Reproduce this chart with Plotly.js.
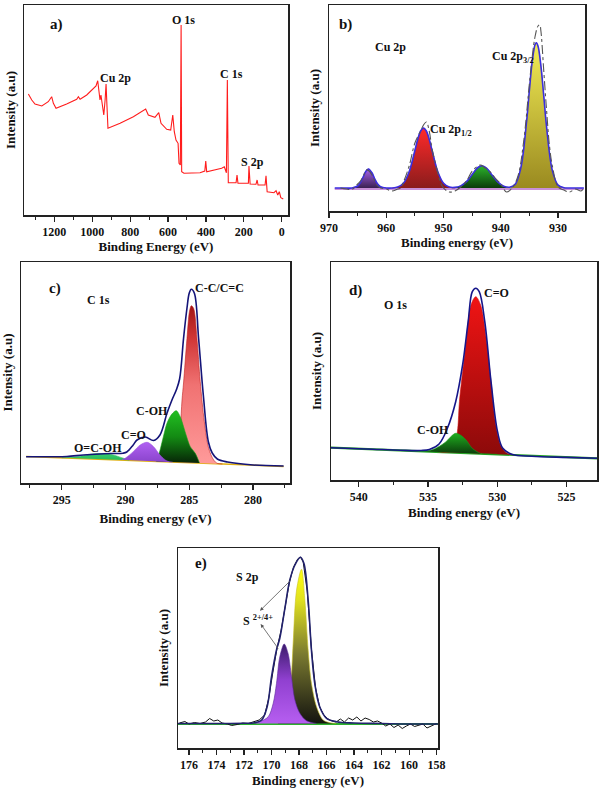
<!DOCTYPE html>
<html><head><meta charset="utf-8">
<script src="https://cdn.plot.ly/plotly-3.0.1.min.js"></script>
<style>html,body{margin:0;padding:0;background:#fff}#chart{width:600px;height:789px}</style>
</head><body><div id="chart"></div>
<script>
// ---------- Panel a: survey ----------
const surveyEnergy = [1337,1319,1302,1266,1232,1214,1205,1191,1135,1082,1073,1064,1029,994,980,971,964,959,954,947,939,932,927,922,917,853,783,718,704,669,649,637,607,586,575,567,558,547,542,535,531,528,516,431,406,401,396,317,303,292,287,282,241,236,231,176,173,167,136,130,125,88,83,77,41,30,21,13,5,-8];
const surveyIntensity = [121,115,111,109,113.3,118.3,111.7,106.7,111,115.7,118.3,115.7,120,126.7,129,134.3,125,115,120,108.3,100,115,131,108.3,86.7,91.7,98.3,106,100,97.7,102.3,91.7,85.7,85,100,83.3,75,71.7,51.7,50,190,43.3,41.7,42.3,44,54,43.3,46.7,48.3,42.3,135,32.3,32.3,40,31.7,31.7,49,31,30.7,35,30,30,39.3,23.3,22.3,24.3,20,23.3,17.3,16];

// ---------- Panel b: Cu 2p ----------
const cuSatHighE = [966,965,964.5,964,963.5,963.1,962.5,962,961.5,961,960];
const cuSatHighI = [23,25,28.7,34.5,40.2,42,38.2,32,26.9,24.3,23];
const cu2p12E = [959,958,957,956,955,954.5,954,953.5,953,952.5,952,951,950,949,948];
const cu2p12I = [23,23.9,27.7,39.3,60.5,71.7,80,83,80,71.7,60.5,39.3,27.7,23.9,23];
const cuSatLowE = [948.5,948,947,946,945,944,943.3,942.5,941.5,940.5,939.5,938.5,938];
const cuSatLowI = [23,23.5,25.1,29.3,36.6,43.5,45.3,43,35.7,28.8,24.8,23.4,23];
const cu2p32E = [939,938.5,937.5,936.5,935.5,935,934.5,934,933.8,933.5,933,932.5,932,931,930,929,928.5];
const cu2p32I = [23,23.4,26.6,43.2,89.5,121.5,150.3,166.7,168.3,164.8,145.2,115,83.5,40.4,25.9,23.3,23];
const cuEnvE = [969,967,966,965,964.5,964,963.5,963.1,962.5,962,961.5,961,960,959,958,957,956,955,954.5,954,953.5,953,952.5,952,951,950,949,948,947,946,945,944,943.3,942.5,941.5,940.5,939.5,938.5,937.5,936.5,935.5,935,934.5,934,933.8,933.5,933,932.5,932,931,930,929,928,926,925.5];
const cuEnvI = [23,23,23,25,28.7,34.5,40.2,42,38.2,32,26.9,24.3,23,23,23.9,27.7,39.3,60.5,71.7,80,83,80,71.7,60.5,39.3,27.7,23.9,23.6,25.1,29.3,36.6,43.5,45.3,43,35.7,28.8,24.8,23.8,26.6,43.2,89.5,121.5,150.3,166.7,168.3,164.8,145.2,115,83.5,40.4,25.9,23.3,23,23,23];
const cuRawE = [968,967,966,965.5,965,964.5,964,963.5,963,962.5,962,961.5,961,960,959,958,957.5,957,956,955,954,953.5,953,952.5,952,951,950.5,950,949,948,947,946,945,944,943.5,943,942,941,940,939.5,939,938,937,936,935,934.5,934,933.5,933.2,933,932.5,932,931.5,931,930,929,928,927,926,925.5];
const cuRawI = [23,22,21.5,24,27,30,35,41,40,36,30,25,23,22,20,22,23,29,45,68,80,86,89,80,62,38,28,23,19,20,24,30,40,45,46,44,40,33,27,22,19,23,35,70,128,155,175,185,186,180,140,100,65,45,24,21,19,22,20,23];
const cuBaseE = [969,925.5];
const cuBaseI = [22,22];

// ---------- Panel c: C 1s ----------
const cBgE = [297.8,277.6];
const cBgI = [26.6,16.6];
const cOCOHE = [295,294,293.3,292.7,292.1,291.5,290.9,290.3,289.7];
const cOCOHI = [25.2,25.9,27.3,28.8,29.5,29.2,27.8,25.3,22.8];
const cCOE = [290.3,290.0,289.4,288.85,288.3,287.8,287.3,286.75,286.3];
const cCOI = [23.3,25,31.3,38,40.7,36.3,28,22,20.8];
const cCOHE = [287.6,287.4,287.0,286.75,286.36,286.02,285.7,285.45,285.2,284.92,284.53,284.2];
const cCOHI = [21.5,28,48,59.7,69,72.3,66,56.3,46,36.3,29.7,20];
const cCCE = [286.2,285.9,285.7,285.57,285.45,285.18,284.98,284.84,284.66,284.4,284.14,283.82,283.48,283.09,282.82,282.4];
const cCCI = [20.9,30,55,83,100,144.7,172,177.3,174.7,144.7,101.3,61.3,34.7,23,19.7,19];
const cEnvE = [297.8,296,294.6,293.3,292.0,291.0,290.2,289.9,289.4,289.1,288.45,287.8,287.3,286.75,286.36,286.02,285.76,285.45,285.18,285.0,284.84,284.6,284.27,283.9,283.5,283.2,282.8,282.0,280,277.6];
const cEnvI = [26.3,26.3,26.5,28,29,29.5,29.8,31,38,43,46,42.5,48,69.7,83,93,104,144.7,175,190,193.7,189.7,144.7,88,41,30,24,21,18,17];

// ---------- Panel d: O 1s ----------
const dBgE = [542,522.8];
const dBgI = [32.3,21.7];
const dCOE = [534.3,533.5,533.2,533.0,532.85,532.73,532.5,532.25,531.9,531.55,531.2,530.8,530.45,530.1,529.7,529.25,528.8];
const dCOI = [28.3,28,30,38.3,51.7,78.3,108.3,138.3,175,183.3,175,141.7,98.3,55,33.3,26.5,25];
const dCOHE = [535.6,535.1,534.65,534.2,533.7,533.3,533.0,532.6,532.25,531.8,531.2,530.6,530];
const dCOHI = [28.7,29,30.5,33.5,38.3,44,46.7,44.5,40,31.7,26.5,26,25.7];
const dEnvE = [542,539,537,535.5,534.9,534.2,533.6,533.0,532.5,532.1,531.8,531.55,531.3,530.9,530.45,529.98,529.6,528.9,527.5,525,522.8];
const dEnvI = [32.3,30.8,29.8,29.5,30.5,36,51.7,78.3,115,158.3,188.3,191.7,188.3,158.3,98.3,48.3,31.7,25.5,23.8,22.6,21.7];

// ---------- Panel e: S 2p ----------
const eBgE = [176.8,157.9];
const eBgI = [24,24];
const eHighE = [171.2,170.85,170.24,169.88,169.64,169.4,169.08,168.8,168.55,168.3,167.94,167.46,166.73];
const eHighI = [24.5,26.3,31.3,44.7,64.7,91.3,104,94.7,71.3,48,34.7,27.3,24.5];
const eLowE = [169.6,169.2,168.85,168.6,168.43,168.18,167.82,167.58,167.34,167.1,166.73,166.25,165.77,165.3];
const eLowI = [24.5,30,45,64.7,104.7,158,178.7,148,98,64.7,41.3,28,25.3,24.5];
const eEnvE = [176.8,175,173,172,171.33,170.72,170.32,170.0,169.64,169.4,169.03,168.67,168.3,167.9,167.65,167.34,167.1,166.86,166.5,166.0,165.28,164,162,160,157.9];
const eEnvI = [24.5,24.5,24.5,24.7,25,28,41.3,71.3,98,109.7,139.7,168,183,190.7,184.7,148,98,64.7,41.3,29.7,26.3,25,24.5,24,24];
const eRawE = [176.7,176.3,176.0,175.6,175.2,174.8,174.5,174.2,173.9,173.6,173.2,172.9,172.5,172.1,171.7,171.3,170.9,170.5,170.2,169.9,169.6,169.3,169.0,168.7,168.4,168.1,167.9,167.7,167.4,167.1,166.8,166.5,166.2,165.9,165.6,165.3,165.0,164.7,164.4,164.1,163.8,163.5,163.2,162.9,162.6,162.3,162.0,161.7,161.4,161.1,160.8,160.5,160.2,159.9,159.6,159.3,159.0,158.7,158.4,158.0];
const eRawI = [25,26.5,24,25.5,24.5,26,29.5,27,28,25,24,22.5,23.5,25,24.5,26,28,33,50,76,100,118,142,166,181,189,191,186,156,99,60,41,33,29,27,26,29,26,30,28,31,27,30,28.5,26,27,25,22,24,20.5,23,19.5,22,24,21.5,23,24,20,22,24.5];

// ---------- drawing ----------
const W = 600, H = 789;
const FF = "'Liberation Serif', 'Times New Roman', serif";
const ax = i => (i === 1 ? '' : String(i));

function lineTrace(xs, ys, i, color, width, dash, shape) {
  return {type:'scatter', mode:'lines', x:xs, y:ys, xaxis:'x'+ax(i), yaxis:'y'+ax(i),
    line:{color:color, width:width, dash:dash||'solid', shape:shape||'linear'}, hoverinfo:'skip'};
}
function fillTrace(xs, ys, i, scale, edge) {
  return {type:'scatter', mode:'lines', x:xs, y:ys, xaxis:'x'+ax(i), yaxis:'y'+ax(i),
    fill:'toself', fillcolor:scale[scale.length-1][1],
    fillgradient:{type:'vertical', colorscale:scale},
    line:{color:edge, width:0.6, shape:'spline', smoothing:0.9}, hoverinfo:'skip'};
}

const traces = [
  lineTrace(surveyEnergy, surveyIntensity, 1, '#ff1c1c', 1.1),

  lineTrace(cuBaseE, cuBaseI, 2, '#c890d8', 2),
  fillTrace(cuSatHighE, cuSatHighI, 2, [[0,'#3a2052'],[1,'#a862ea']], '#9050d0'),
  fillTrace(cu2p12E, cu2p12I, 2, [[0,'#8a1c1c'],[1,'#ff2a2a']], '#e02020'),
  fillTrace(cuSatLowE, cuSatLowI, 2, [[0,'#0c3a0c'],[1,'#2bb52b']], '#20a020'),
  fillTrace(cu2p32E, cu2p32I, 2, [[0,'#9a8a20'],[1,'#f2ec55']], '#c8c030'),
  lineTrace(cuEnvE, cuEnvI, 2, '#3a2ee0', 1.6, 'solid', 'spline'),
  lineTrace(cuRawE, cuRawI, 2, '#555555', 1.1, 'dashdot', 'spline'),

  lineTrace(cBgE, cBgI, 3, '#e0b010', 1.5),
  fillTrace(cOCOHE, cOCOHI, 3, [[0,'#28b858'],[1,'#3ad070']], '#30c060'),
  fillTrace(cCCE, cCCI, 3, [[0,'#ff9a9a'],[0.5,'#f07272'],[0.8,'#d03535'],[1,'#a01515']], '#c02020'),
  fillTrace(cCOHE, cCOHI, 3, [[0,'#072507'],[0.5,'#138a13'],[1,'#22c022']], '#18a018'),
  fillTrace(cCOE, cCOI, 3, [[0,'#8a44cc'],[1,'#b060f2']], '#9a50e0'),
  lineTrace(cEnvE, cEnvI, 3, '#141478', 1.6, 'solid', 'spline'),

  lineTrace(dBgE, dBgI, 4, '#26a326', 2.2),
  fillTrace(dCOE, dCOI, 4, [[0,'#8c0a0a'],[1,'#f01414']], '#d01010'),
  fillTrace(dCOHE, dCOHI, 4, [[0,'#0b3a0b'],[1,'#1fae1f']], '#1a9a1a'),
  lineTrace(dEnvE, dEnvI, 4, '#16168a', 1.6, 'solid', 'spline'),

  lineTrace(eBgE, eBgI, 5, '#2eb02e', 2),
  fillTrace(eLowE, eLowI, 5, [[0,'#141410'],[0.45,'#7a7a30'],[0.8,'#e0e020'],[1,'#ffff10']], '#c8c020'),
  fillTrace(eHighE, eHighI, 5, [[0,'#b65ef0'],[0.55,'#9040d0'],[1,'#3a1c6a']], '#5a2a9a'),
  lineTrace(eRawE, eRawI, 5, '#111111', 1, 'solid'),
  lineTrace(eEnvE, eEnvI, 5, '#22226e', 1.6, 'solid', 'spline')
];

const tickFont = {family:FF, size:12, weight:'bold', color:'#111'};
const titleFont = {family:FF, size:13, weight:'bold', color:'#111'};

function xAxis(i, left, right, range, dtick, minorDtick, title, standoff) {
  return {domain:[left/W, right/W], range:range, anchor:'y'+ax(i), dtick:dtick,
    showgrid:false, zeroline:false, showline:true, mirror:true, linecolor:'#222', linewidth:1.5,
    ticks:'outside', ticklen:5, tickwidth:1.2, tickcolor:'#222', tickfont:tickFont,
    minor:{ticks:'outside', ticklen:3, tickwidth:1, tickcolor:'#222', dtick:minorDtick},
    title:{text:title, font:titleFont, standoff:standoff}};
}
function yAxis(i, top, bottom, range, standoff) {
  return {domain:[1-bottom/H, 1-top/H], range:range, anchor:'x'+ax(i),
    showgrid:false, zeroline:false, showline:true, mirror:true, linecolor:'#222', linewidth:1.5,
    ticks:'', showticklabels:false,
    title:{text:'Intensity (a.u)', font:titleFont, standoff:standoff}};
}

function note(text, px, py, size, xanchor) {
  return {xref:'paper', yref:'paper', x:px/W, y:1-py/H, text:text, showarrow:false,
    xanchor:xanchor||'center', yanchor:'middle', font:{family:FF, size:size, weight:'bold', color:'#111'}};
}
function arrow(hx, hy, tx, ty) {
  return {xref:'x5', yref:'y5', axref:'x5', ayref:'y5', x:hx, y:hy, ax:tx, ay:ty, text:'',
    showarrow:true, arrowhead:2, arrowsize:0.9, arrowwidth:0.8, arrowcolor:'#555'};
}

const layout = {
  width:W, height:H, margin:{l:0, r:0, t:0, b:0},
  paper_bgcolor:'#fff', plot_bgcolor:'#fff', showlegend:false, hovermode:false,
  xaxis:  xAxis(1, 24, 288, [1360,-33], 200, 100, 'Binding Energy (eV)', 4),
  yaxis:  yAxis(1, 5, 215, [0,210], 4),
  xaxis2: xAxis(2, 329, 585, [970,925.3], 10, 5, 'Binding energy (eV)', 4),
  yaxis2: yAxis(2, 5, 211, [0,206], 5),
  xaxis3: xAxis(3, 21, 290, [298.2,277.1], 5, 2.5, 'Binding energy (eV)', 8),
  yaxis3: yAxis(3, 262, 483, [0,221], 5),
  xaxis4: xAxis(4, 331, 597, [542,522.8], 5, 2.5, 'Binding energy (eV)', 5),
  yaxis4: yAxis(4, 262, 480, [0,218], 5),
  xaxis5: xAxis(5, 178, 438, [176.8,157.9], 2, 1, 'Binding energy (eV)', 5),
  yaxis5: yAxis(5, 548, 748, [0,200], 5),
  annotations: [
    note('a)', 56, 25, 15), note('O 1s', 183, 20, 12), note('Cu 2p', 115, 78, 12),
    note('C 1s', 231, 74, 12), note('S 2p', 252, 162, 12),
    note('b)', 345, 25, 15), note('Cu 2p', 391, 47, 12),
    note('Cu 2p<sub>3/2</sub>', 513, 57, 12), note('Cu 2p<sub>1/2</sub>', 451, 130, 12),
    note('c)', 55, 288, 15), note('C 1s', 98, 300, 12), note('C-C/C=C', 219, 288, 12),
    note('C-OH', 152, 411, 12), note('C=O', 133, 435, 12), note('O=C-OH', 98, 448, 12),
    note('d)', 355, 290, 15), note('O 1s', 395, 305, 12), note('C=O', 496, 293, 12),
    note('C-OH', 433, 430, 12),
    note('e)', 201, 563, 15), note('S 2p', 247, 577, 12),
    note('S <sup>2+/4+</sup>', 241, 620, 12, 'left'),
    arrow(170.84, 137.3, 168.53, 168.7),
    arrow(170.79, 124, 169.44, 98)
  ]
};

Plotly.newPlot('chart', traces, layout, {displayModeBar:false, staticPlot:true});
</script></body></html>
